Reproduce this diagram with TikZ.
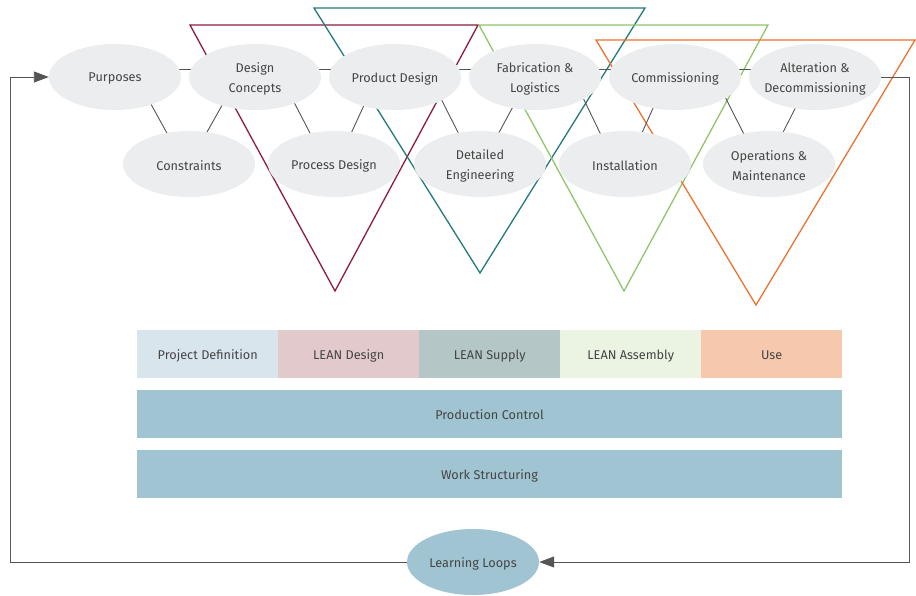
\documentclass[tikz,border=0pt]{standalone}
\usepackage{fontspec}
\setmainfont{Fira Sans}
\usetikzlibrary{shapes.geometric,arrows.meta}
\pgfdeclarelayer{bg}
\pgfsetlayers{bg,main}

\definecolor{txtgray}{HTML}{454545}
\definecolor{linegray}{HTML}{555555}
\definecolor{ellgray}{HTML}{EBEDEE}
\definecolor{maroon}{HTML}{8C1D40}
\definecolor{tealc}{HTML}{23797C}
\definecolor{greenc}{HTML}{92C46A}
\definecolor{orangec}{HTML}{EE7131}
\definecolor{pdef}{HTML}{D9E5EC}
\definecolor{ldes}{HTML}{E2C9CB}
\definecolor{lsup}{HTML}{B5C6C7}
\definecolor{lasm}{HTML}{EBF3E3}
\definecolor{usec}{HTML}{F6C9AE}
\definecolor{ctrl}{HTML}{A0C4D2}

\tikzset{
  every node/.style={text=txtgray, font=\fontsize{12.7}{20}\selectfont},
  lbl/.style={align=center, inner sep=0pt, yshift=-1.5pt, font=\fontsize{12.7}{20}\selectfont, text=txtgray},
  oneline/.style={text height=11pt, text depth=1pt},
  stage/.style={ellipse, fill=ellgray, minimum width=132pt, minimum height=66pt, inner sep=0pt},
  loopnode/.style={ellipse, fill=ctrl, minimum width=132pt, minimum height=66pt, inner sep=0pt, oneline},
  cell/.style={rectangle, minimum width=141pt, minimum height=48pt, inner sep=0pt, anchor=west, oneline},
  band/.style={rectangle, fill=ctrl, minimum width=705pt, minimum height=48pt, inner sep=0pt, oneline},
  conn/.style={draw=linegray, line width=0.9pt},
  tri/.style={line width=1.3pt, line join=miter},
  tip/.style={-{Triangle[length=15pt,width=11pt]}, draw=linegray, line width=0.9pt, color=linegray}
}

\begin{document}
\begin{tikzpicture}[x=1pt,y=-1pt]
\useasboundingbox (0,0) rectangle (916,595);

% project stages, upper row
\node[stage, label={[lbl]center:Purposes}] (pur) at (115,77) {};
\node[stage, label={[lbl]center:Design\\Concepts}] (dcon) at (255,77) {};
\node[stage, label={[lbl]center:Product Design}] (pdes) at (395,77) {};
\node[stage, label={[lbl]center:Fabrication \&\\Logistics}] (fab) at (535,77) {};
\node[stage, label={[lbl]center:Commissioning}] (comm) at (675,77) {};
\node[stage, label={[lbl]center:Alteration \&\\Decommissioning}] (alt) at (815,77) {};

% project stages, lower row
\node[stage, label={[lbl]center:Constraints}] (cons) at (189,164) {};
\node[stage, label={[lbl]center:Process Design}] (prdes) at (334,164) {};
\node[stage, label={[lbl]center:Detailed\\Engineering}] (deng) at (480,164) {};
\node[stage, label={[lbl]center:Installation}] (inst) at (625,164) {};
\node[stage, label={[lbl]center:Operations \&\\Maintenance}] (ops) at (769,164) {};

% phase strip
\node[cell, fill=pdef] (c1) at (137,354) {Project Definition};
\node[cell, fill=ldes] (c2) at (278,354) {LEAN Design};
\node[cell, fill=lsup] (c3) at (419,354) {LEAN Supply};
\node[cell, fill=lasm] (c4) at (560,354) {LEAN Assembly};
\node[cell, fill=usec] (c5) at (701,354) {Use};

\node[band] (pc) at (489.5,414) {Production Control};
\node[band] (ws) at (489.5,474) {Work Structuring};

\node[loopnode] (ll) at (473,562) {Learning Loops};

\coordinate (rturn) at (909,77);
\coordinate (rbot) at (909,562);
\coordinate (lbot) at (10,562);
\coordinate (ltop) at (10,77);

\begin{pgfonlayer}{bg}
  % phase triangles
  \draw[tri, maroon] (190,25) -- (478,25) -- (335,291) -- cycle;
  \draw[tri, tealc] (314,8) -- (645,8) -- (480,273) -- cycle;
  \draw[tri, greenc] (479,25) -- (768,25) -- (624,291) -- cycle;
  \draw[tri, orangec] (596,40) -- (915,40) -- (756,305) -- cycle;

  % links along the upper row
  \foreach \a/\b in {pur/dcon, dcon/pdes, pdes/fab, fab/comm, comm/alt}
    \draw[conn] ([yshift=8pt]\a.center) -- ([yshift=8pt]\b.center);

  % links between the rows
  \draw[conn] ([xshift=21pt]pur.center) -- ([xshift=-5pt]cons.center);
  \draw[conn] ([xshift=-17pt]dcon.center) -- (cons.center);
  \draw[conn] ([xshift=26pt]dcon.center) -- ([xshift=-8pt]prdes.center);
  \draw[conn] ([xshift=-18pt]pdes.center) -- ([xshift=3pt]prdes.center);
  \draw[conn] ([xshift=35pt]pdes.center) -- ([xshift=-6pt]deng.center);
  \draw[conn] ([xshift=-6pt]fab.center) -- ([xshift=2pt]deng.center);
  \draw[conn] ([xshift=38pt]fab.center) -- ([xshift=-10pt]inst.center);
  \draw[conn] ([xshift=-8pt]comm.center) -- ([xshift=3pt]inst.center);
  \draw[conn] ([xshift=40pt]comm.center) -- ([xshift=-10pt]ops.center);
  \draw[conn] ([xshift=-4pt]alt.center) -- ([xshift=-2pt]ops.center);
\end{pgfonlayer}

% feedback loop
\draw[tip] (alt.east) -- (rturn) -- (rbot) -- (ll.east);
\draw[tip] (ll.west) -- (lbot) -- (ltop) -- (pur.west);
\end{tikzpicture}
\end{document}
